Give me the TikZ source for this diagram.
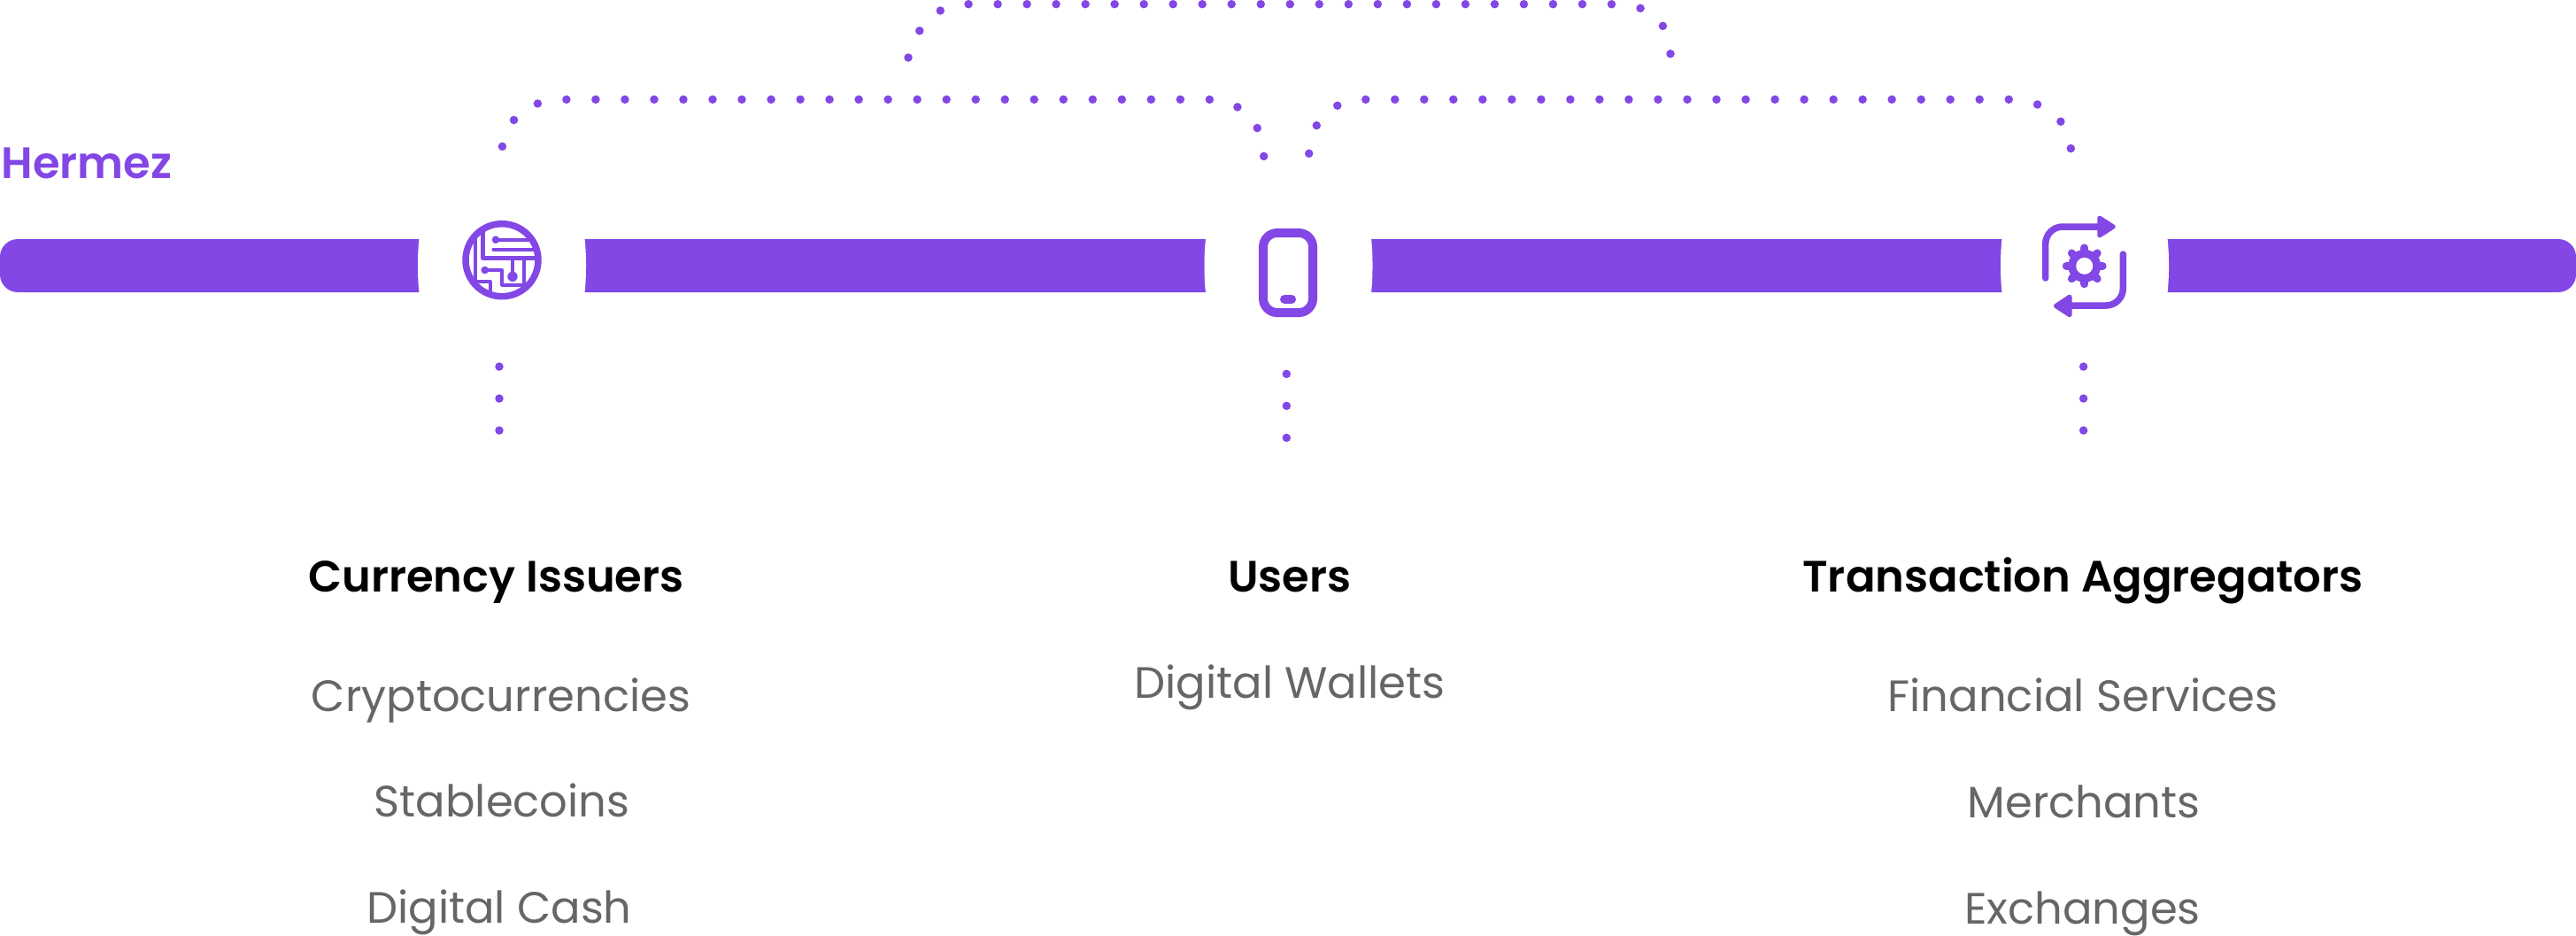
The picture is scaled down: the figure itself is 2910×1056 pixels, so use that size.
\documentclass[tikz,border=0pt]{standalone}
\usepackage{fontspec}
\setmainfont{Poppins}
\newfontfamily\headfont{Poppins SemiBold}
\definecolor{hermezpurple}{HTML}{8247E5}
\definecolor{itemgray}{HTML}{666666}
\tikzset{
  heading/.style={anchor=base,inner sep=0pt,text=black,font=\headfont\fontsize{14.1}{16}\selectfont},
  itemtext/.style={anchor=base,inner sep=0pt,text=itemgray,font=\fontsize{14.1}{16}\selectfont},
  dotline/.style={draw=hermezpurple,line width=2.7pt,line cap=round,dash pattern=on 0pt off 9.39pt},
  dotdrop/.style={dotline,dash pattern=on 0pt off 10.24pt},
  thinline/.style={draw=hermezpurple,line width=1.05pt},
  iconline/.style={draw=hermezpurple,line width=2.13pt,line cap=round},
  iconhead/.style={draw=hermezpurple,fill=hermezpurple,line width=1.4pt,line join=round}
}
\begin{document}
\begin{tikzpicture}[x=0.01cm,y=-0.01cm,line cap=round,line join=round]
  \useasboundingbox (0,0) rectangle (2910,1056);
  % bar with three openings
  \fill[hermezpurple,rounded corners=5.7pt] (0,270) rectangle (2910,330);
  \foreach \cx in {567,1455.5,2355} {
    \fill[white] (\cx-95,300) .. controls (\cx-95,225) and (\cx-75,205) .. (\cx,205)
      .. controls (\cx+75,205) and (\cx+95,225) .. (\cx+95,300)
      .. controls (\cx+95,375) and (\cx+75,395) .. (\cx,395)
      .. controls (\cx-75,395) and (\cx-95,375) .. (\cx-95,300) -- cycle;
  }
  \node[anchor=base west,inner sep=0pt,text=hermezpurple,font=\headfont\fontsize{14.1}{16}\selectfont] (hermez) at (1,201) {Hermez};
  % dotted brackets
  \coordinate (issuerup) at (567.4,165.4);
  \coordinate (walletleft) at (1427.7,173.3);
  \coordinate (walletright) at (1478.7,173.3);
  \coordinate (aggregup) at (2339.3,165);
  \coordinate (topleft) at (1026,65);
  \coordinate (topright) at (1887,55);
  \draw[dotline] (issuerup) .. controls (574,130) and (600,112.3) .. (637.4,112.3) -- (1363.3,112.3)
    .. controls (1400,112.3) and (1425,135) .. (walletleft) -- ++(0,4);
  \draw[dotline] (walletright) .. controls (1481,135) and (1505,112.3) .. (1543,112.3) -- (2269.3,112.3)
    .. controls (2305,112.3) and (2334,130) .. (aggregup) -- ++(0,4);
  \draw[dotline] (topleft) .. controls (1033,35) and (1055,4.7) .. (1090,4.7) -- (1816,4.7)
    .. controls (1850,4.7) and (1880,10) .. (topright) -- ++(0,10);
  % circuit icon
  \draw[draw=hermezpurple,line width=2.13pt] (567,293.7) circle (41);
  \begin{scope}
    \clip (567,293.7) circle (41);
    \draw[thinline,line width=1.3pt,line cap=butt] (545.7,250) -- (545.7,291.7) -- (610,291.7);
    \draw[thinline,line cap=butt] (579,291.7) -- (579,312.3);
    \draw[thinline] (560,270.7) -- (610,270.7);
    \draw[thinline] (557.3,281.7) -- (610,281.7);
    \draw[thinline] (547.7,305) -- (567.3,305) -- (567.3,321.7) -- (592.3,321.7) -- (592.3,291.7);
    \draw[thinline] (536.7,250) -- (536.7,318.3) -- (554,318.3) -- (554,340);
  \end{scope}
  \fill[hermezpurple] (579,312.3) circle (5.7) (560,270.7) circle (4.3) (547.7,305) circle (4.3);
  % phone icon
  \draw[draw=hermezpurple,line width=2.85pt,rounded corners=4.5pt] (1427,263) rectangle (1483,353);
  \fill[hermezpurple,rounded corners=1.4pt] (1446,333) rectangle (1464,343);
  % gear icon with two arrows
  \draw[iconline,rounded corners=5.5pt] (2310.7,314) -- (2310.7,256) -- (2373,256);
  \filldraw[iconhead] (2371.7,246) -- (2387.3,256) -- (2371.7,266) -- cycle;
  \draw[iconline,rounded corners=5.5pt] (2398.3,287) -- (2398.3,345) -- (2338,345);
  \filldraw[iconhead] (2338,335) -- (2322.3,345.5) -- (2338,355.7) -- cycle;
  \fill[hermezpurple] (2354.7,300.3) circle (18.5);
  \foreach \a in {0,45,...,315} {
    \draw[hermezpurple,line width=2.5pt,line cap=round] (2354.7,300.3) -- ++(\a:20.5);
  }
  \fill[white] (2354.7,300.3) circle (9.5);
  % dots below the icons
  \coordinate (issuerdown) at (564,414);
  \coordinate (walletdown) at (1453.3,422.3);
  \coordinate (aggregdown) at (2353.6,414);
  \draw[dotdrop] (issuerdown) -- ++(0,74);
  \draw[dotdrop] (walletdown) -- ++(0,74);
  \draw[dotdrop] (aggregdown) -- ++(0,74);
  % texts
  \node[heading] (issuers) at (560.5,668) {Currency Issuers};
  \node[heading] (users) at (1456.7,668) {Users};
  \node[heading] (aggregators) at (2353,668) {Transaction Aggregators};
  \node[itemtext] (crypto) at (566,803) {Cryptocurrencies};
  \node[itemtext] (stable) at (567,922.5) {Stablecoins};
  \node[itemtext] (cash) at (564,1042.5) {Digital Cash};
  \node[itemtext] (wallets) at (1457,788.3) {Digital Wallets};
  \node[itemtext] (financial) at (2353,803.3) {Financial Services};
  \node[itemtext] (merchants) at (2354,923) {Merchants};
  \node[itemtext] (exchanges) at (2352.5,1043) {Exchanges};
\end{tikzpicture}
\end{document}
